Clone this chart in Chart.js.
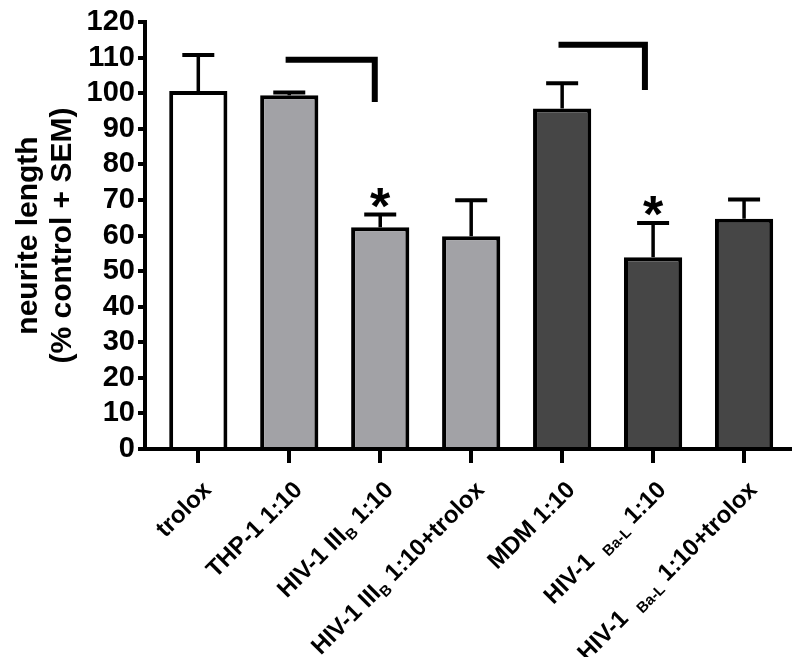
<!DOCTYPE html>
<html>
<head>
<meta charset="utf-8">
<script src="https://cdn.jsdelivr.net/npm/chart.js@4.4.1/dist/chart.umd.min.js"></script>
<style>
  html, body { margin: 0; padding: 0; background: #fff; }
</style>
</head>
<body>
<canvas id="grafico" width="800" height="657"></canvas>
<script>
// DADOS
const categorias = ["trolox", "THP-1 1:10", "HIV-1 IIIB 1:10", "HIV-1 IIIB 1:10+trolox", "MDM 1:10", "HIV-1 Ba-L 1:10", "HIV-1 Ba-L 1:10+trolox"];
// partes do rótulo: [texto, subscrito?]
const rotulosPartes = [
  [["trolox", false]],
  [["THP-1 1:10", false]],
  [["HIV-1 III", false], ["B", true], [" 1:10", false]],
  [["HIV-1 III", false], ["B", true], [" 1:10+trolox", false]],
  [["MDM 1:10", false]],
  [["HIV-1  ", false], ["Ba-L", true], [" 1:10", false]],
  [["HIV-1  ", false], ["Ba-L", true], [" 1:10+trolox", false]]
];
const medias = [100.6, 99.4, 62.3, 59.8, 95.7, 53.9, 64.7];
const erros = [10.1, 0.8, 3.6, 10.1, 7.1, 9.6, 5.4];
const significativo = [false, false, true, false, false, true, false];
const coresBarras = ["#ffffff", "#a2a2a6", "#a2a2a6", "#a2a2a6", "#464646", "#464646", "#464646"];
const yMin = 0;
const yMax = 120;
const yPasso = 10;
const tituloY = ["neurite length", "(% control + SEM)"];
// colchetes de comparação: de / até (índice da categoria), topo / base (valor)
const colchetes = [
  { de: 0.96, ate: 1.94, topo: 109.4, base: 97.5 },
  { de: 3.96, ate: 4.91, topo: 113.6, base: 100.9 }
];

const FONTE = "'Liberation Sans', Arial, Helvetica, sans-serif";
Chart.defaults.font.family = FONTE;
Chart.defaults.color = "#000";

// pontos {x: índice, y: média} para o eixo x linear
const pontos = medias.map((v, i) => ({ x: i, y: v }));

// --- PLUGIN: barras de erro, asteriscos, colchetes, rótulos ---
const extrasPlugin = {
  id: "extras",
  afterDatasetsDraw(chart) {
    const { ctx, scales: { x, y } } = chart;
    const meta = chart.getDatasetMeta(0);
    ctx.save();
    ctx.strokeStyle = "#000";
    ctx.fillStyle = "#000";
    ctx.lineCap = "butt";

    meta.data.forEach((bar, i) => {
      const cx = bar.x;
      const yTopo = y.getPixelForValue(medias[i]);
      const yCap = y.getPixelForValue(medias[i] + erros[i]);
      ctx.lineWidth = 3.5;
      ctx.beginPath();
      ctx.moveTo(cx, yTopo);
      ctx.lineTo(cx, yCap);
      ctx.stroke();
      ctx.lineWidth = 4;
      ctx.beginPath();
      ctx.moveTo(cx - 16, yCap);
      ctx.lineTo(cx + 16, yCap);
      ctx.stroke();

      if (significativo[i]) {
        ctx.font = "bold 52px " + FONTE;
        ctx.textAlign = "center";
        ctx.textBaseline = "alphabetic";
        const m = ctx.measureText("*");
        const fundo = yCap - 7;
        ctx.fillText("*", cx, fundo - m.actualBoundingBoxDescent);
      }
    });

    ctx.lineWidth = 6;
    ctx.lineJoin = "miter";
    colchetes.forEach((c) => {
      const x1 = x.getPixelForValue(c.de);
      const x2 = x.getPixelForValue(c.ate);
      const yT = y.getPixelForValue(c.topo);
      const yB = y.getPixelForValue(c.base);
      ctx.beginPath();
      ctx.moveTo(x1, yT);
      ctx.lineTo(x2, yT);
      ctx.lineTo(x2, yB);
      ctx.stroke();
    });
    ctx.restore();
  },
  afterDraw(chart) {
    // rótulos do eixo x com subscrito, girados 45 graus
    const { ctx, scales: { x } } = chart;
    const tamNormal = 24;
    const tamSub = 15;
    const altCap = tamNormal * 0.716;
    ctx.save();
    ctx.fillStyle = "#000";
    ctx.textBaseline = "alphabetic";
    ctx.textAlign = "left";
    rotulosPartes.forEach((partes, i) => {
      const ax = x.getPixelForValue(i) + 2;
      const ay = x.top + 30;
      let total = 0;
      const larguras = partes.map(([txt, sub]) => {
        ctx.font = "bold " + (sub ? tamSub : tamNormal) + "px " + FONTE;
        const w = ctx.measureText(txt).width;
        total += w;
        return w;
      });
      ctx.save();
      ctx.translate(ax, ay);
      ctx.rotate(-Math.PI / 4);
      let px = -total;
      partes.forEach(([txt, sub], k) => {
        ctx.font = "bold " + (sub ? tamSub : tamNormal) + "px " + FONTE;
        ctx.fillText(txt, px, altCap + (sub ? 5 : 0));
        px += larguras[k];
      });
      ctx.restore();
    });
    ctx.restore();
  }
};

// --- GRÁFICO ---
const grafico = new Chart(document.getElementById("grafico"), {
  type: "bar",
  data: {
    datasets: [
      {
        data: pontos,
        backgroundColor: coresBarras,
        borderColor: "#000",
        borderWidth: 4,
        barPercentage: 0.64,
        categoryPercentage: 1
      }
    ]
  },
  options: {
    responsive: false,
    animation: false,
    devicePixelRatio: 1,
    layout: { padding: { left: 8, right: 10, top: 22, bottom: 0 } },
    plugins: {
      legend: { display: false },
      tooltip: { enabled: false }
    },
    scales: {
      x: {
        type: "linear",
        z: 1,
        offset: false,
        min: -0.586,
        max: 6.505,
        border: { display: true, color: "#000", width: 4 },
        grid: { offset: false, drawOnChartArea: false, drawTicks: true, tickLength: 14, color: "#000", lineWidth: 4 },
        ticks: { display: false, stepSize: 1, includeBounds: false, autoSkip: false },
        afterFit: (s) => { s.height = 657 - 449; }
      },
      y: {
        min: yMin,
        max: yMax,
        border: { display: true, color: "#000", width: 4 },
        grid: { drawOnChartArea: false, drawTicks: true, tickLength: 7, color: "#000", lineWidth: 4 },
        ticks: {
          stepSize: yPasso,
          autoSkip: false,
          padding: 3,
          color: "#000",
          font: { size: 29, weight: "bold" }
        },
        title: {
          display: true,
          text: tituloY,
          color: "#000",
          font: { size: 30, weight: "bold", lineHeight: 1.13 },
          padding: { top: 4, bottom: 0 }
        },
        afterFit: (s) => { s.width = 145 - 8; }
      }
    }
  },
  plugins: [extrasPlugin]
});
</script>
</body>
</html>
